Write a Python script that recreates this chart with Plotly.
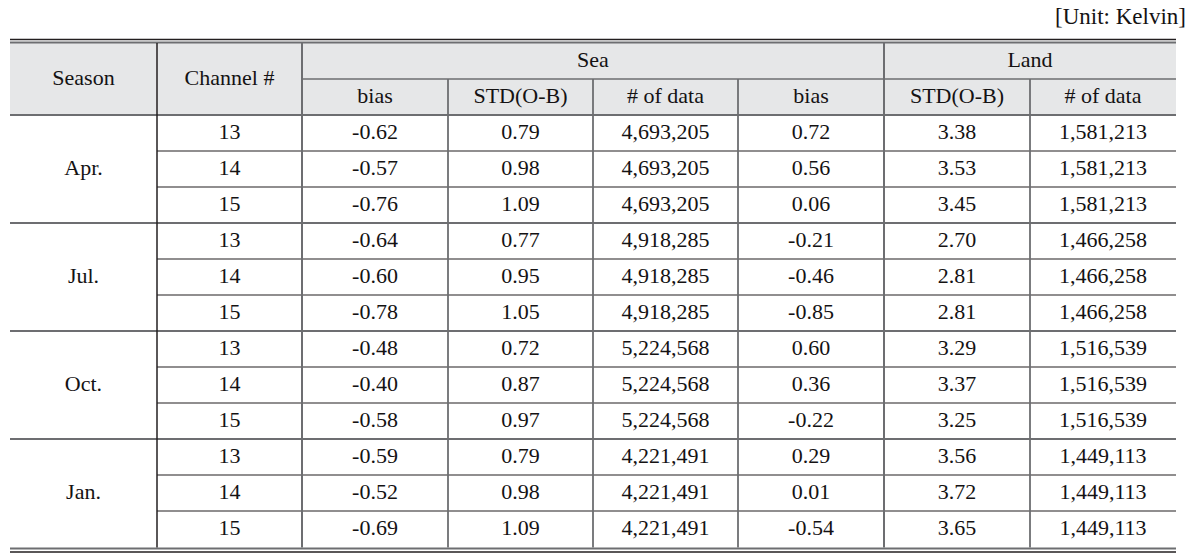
import plotly.graph_objects as go

# ---------------- data ----------------
seasons = ["Apr.", "Jul.", "Oct.", "Jan."]
channels = ["13", "14", "15"]
sea_bias = ["-0.62", "-0.57", "-0.76", "-0.64", "-0.60", "-0.78",
            "-0.48", "-0.40", "-0.58", "-0.59", "-0.52", "-0.69"]
sea_std = ["0.79", "0.98", "1.09", "0.77", "0.95", "1.05",
           "0.72", "0.87", "0.97", "0.79", "0.98", "1.09"]
sea_n = ["4,693,205"] * 3 + ["4,918,285"] * 3 + ["5,224,568"] * 3 + ["4,221,491"] * 3
land_bias = ["0.72", "0.56", "0.06", "-0.21", "-0.46", "-0.85",
             "0.60", "0.36", "-0.22", "0.29", "0.01", "-0.54"]
land_std = ["3.38", "3.53", "3.45", "2.70", "2.81", "2.81",
            "3.29", "3.37", "3.25", "3.56", "3.72", "3.65"]
land_n = ["1,581,213"] * 3 + ["1,466,258"] * 3 + ["1,516,539"] * 3 + ["1,449,113"] * 3

top_headers = ["Season", "Channel #", "Sea", "Land"]
sub_headers = ["bias", "STD(O-B)", "# of data", "bias", "STD(O-B)", "# of data"]
unit_label = "[Unit: Kelvin]"

# ---------------- layout geometry ----------------
W, H = 1195, 555
col_edges = [10, 157, 302, 448, 593, 738, 884, 1030, 1176]
y_top_black = 39.5
y_hdr_top = 43
y_hdr_mid = 79
y_hdr_bot = 115
row_h = 36
n_rows = len(sea_bias)
y_data_bot = y_hdr_bot + row_h * n_rows

FONT = "Liberation Serif, Times New Roman, serif"
TXT = "#141213"
GRAY_LINE = "#6d6e71"
DARK_LINE = "#231f20"
HDR_BG = "#e6e7e8"

def cx(i):
    return (col_edges[i] + col_edges[i + 1]) / 2

def ry(r):
    return y_hdr_bot + row_h * (r + 0.5)

xs, ys, ts = [], [], []

# header texts
xs += [cx(0), cx(1), (col_edges[2] + col_edges[6]) / 2, (col_edges[6] + col_edges[8]) / 2]
ys += [(y_hdr_top + y_hdr_bot) / 2, (y_hdr_top + y_hdr_bot) / 2,
       (y_hdr_top + y_hdr_mid) / 2, (y_hdr_top + y_hdr_mid) / 2]
ts += top_headers
for j, s in enumerate(sub_headers):
    xs.append(cx(2 + j)); ys.append((y_hdr_mid + y_hdr_bot) / 2); ts.append(s)

# season labels
for g, s in enumerate(seasons):
    xs.append(cx(0)); ys.append(ry(g * 3 + 1)); ts.append(s)

cols = [sea_bias, sea_std, sea_n, land_bias, land_std, land_n]
for r in range(n_rows):
    xs.append(cx(1)); ys.append(ry(r)); ts.append(channels[r % 3])
    for j, col in enumerate(cols):
        xs.append(cx(2 + j)); ys.append(ry(r)); ts.append(col[r])

fig = go.Figure()
fig.add_trace(go.Scatter(
    x=xs, y=ys, text=ts, mode="text", textposition="middle center",
    textfont=dict(family=FONT, size=22, color=TXT), hoverinfo="skip",
    showlegend=False))

shapes = []
# header background
shapes.append(dict(type="rect", x0=col_edges[0], x1=col_edges[-1], y0=y_hdr_top, y1=y_hdr_bot,
                   fillcolor=HDR_BG, line=dict(width=0), layer="below"))

def hline(y, x0, x1, color, w):
    shapes.append(dict(type="line", x0=x0, x1=x1, y0=y, y1=y, line=dict(color=color, width=w)))

def vline(x, y0, y1, color, w):
    shapes.append(dict(type="line", x0=x, x1=x, y0=y0, y1=y1, line=dict(color=color, width=w)))

L, R = col_edges[0], col_edges[-1]
# top double rule
hline(y_top_black, L, R, DARK_LINE, 1.5)
hline(y_hdr_top - 0.5, L, R, GRAY_LINE, 2)
# header rules
hline(y_hdr_mid, col_edges[2], R, GRAY_LINE, 1.5)
hline(y_hdr_bot, L, R, GRAY_LINE, 2)
# data row rules
for k in range(1, n_rows):
    y = y_hdr_bot + row_h * k
    if k % 3 == 0:
        hline(y, L, R, GRAY_LINE, 2)
    else:
        hline(y, col_edges[1], R, DARK_LINE, 1.2)
# bottom double rule
hline(y_data_bot + 1.5, L, R, GRAY_LINE, 2)
hline(y_data_bot + 5, L, R, DARK_LINE, 1.5)

# vertical rules
vline(col_edges[1], y_hdr_top, y_data_bot + 0.5, DARK_LINE, 1.5)
vline(col_edges[2], y_hdr_top, y_data_bot + 0.5, GRAY_LINE, 2)
vline(col_edges[6], y_hdr_top, y_data_bot + 0.5, GRAY_LINE, 2)
for i in [3, 4, 5, 7]:
    vline(col_edges[i], y_hdr_mid, y_data_bot + 0.5, GRAY_LINE, 1.8)

fig.update_layout(
    width=W, height=H, margin=dict(l=0, r=0, t=0, b=0),
    paper_bgcolor="white", plot_bgcolor="white",
    xaxis=dict(range=[0, W], visible=False, fixedrange=True),
    yaxis=dict(range=[H, 0], visible=False, fixedrange=True),
    shapes=shapes,
    annotations=[dict(x=1188, y=16, xref="x", yref="y", text=unit_label, showarrow=False,
                      xanchor="right", yanchor="middle",
                      font=dict(family=FONT, size=23, color=TXT))],
)

fig.write_html("out.html", config={"displayModeBar": False},
               post_script="document.body.style.margin='0';document.body.style.padding='0';document.body.style.overflow='hidden';")
